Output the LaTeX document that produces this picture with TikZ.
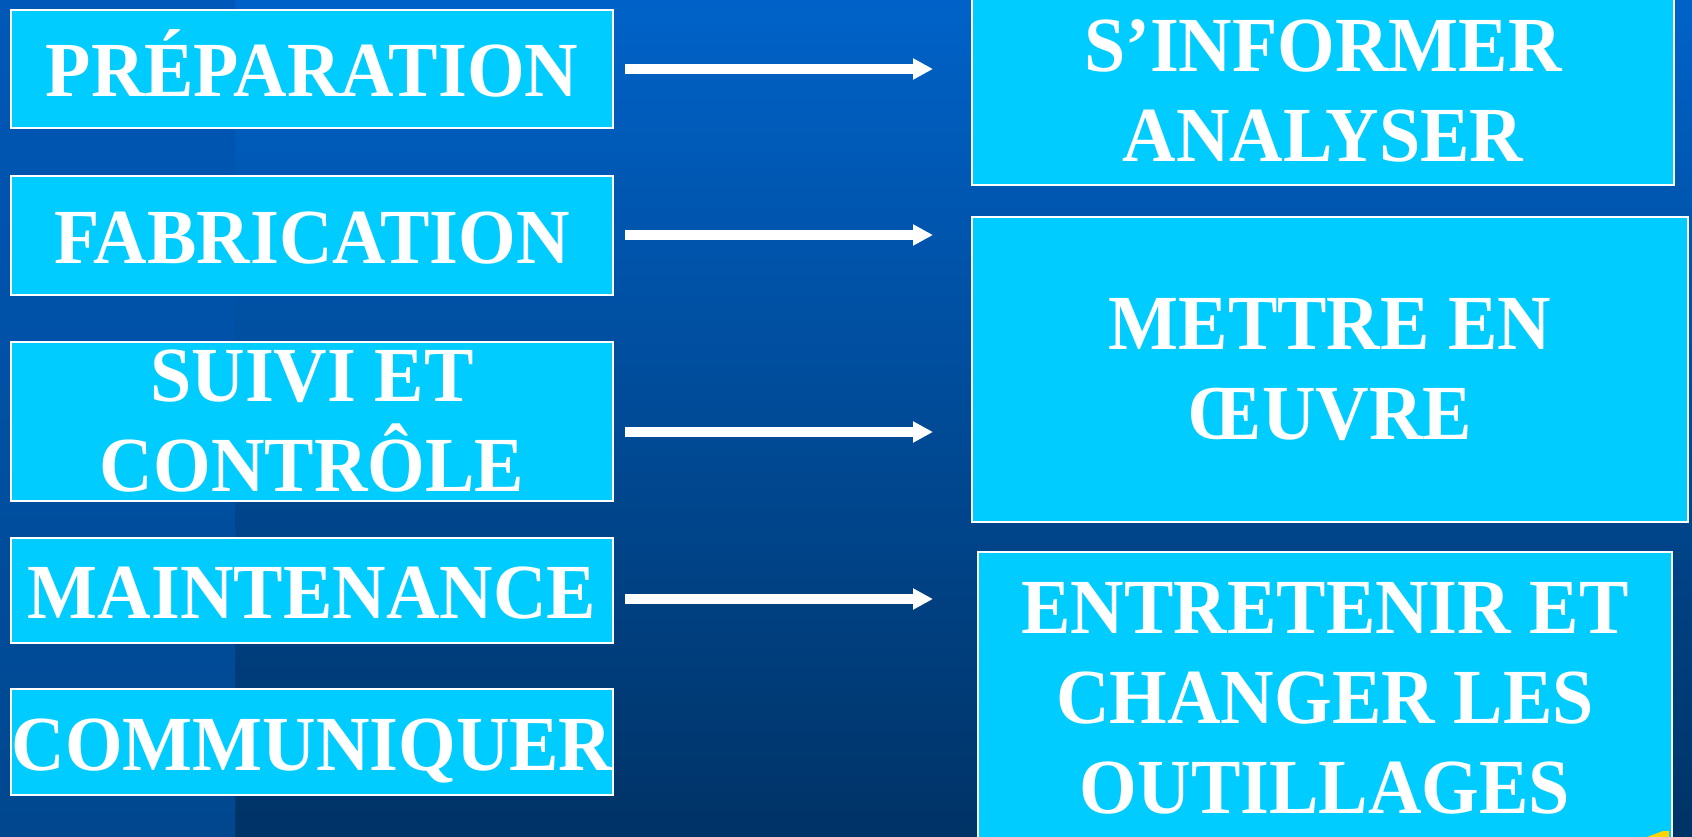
\documentclass[tikz,border=0pt]{standalone}
\usepackage{fontspec}
\newfontfamily\boxfont{Liberation Serif}[FakeStretch=0.95]
\usetikzlibrary{arrows.meta}
\definecolor{bgtop}{HTML}{0062C8}
\definecolor{bgbot}{HTML}{003366}
\definecolor{striptop}{HTML}{0058B8}
\definecolor{stripbot}{HTML}{00478E}
\definecolor{boxfill}{HTML}{00CCFF}
\definecolor{markyellow}{HTML}{FFD400}
\begin{document}
\begin{tikzpicture}[x=1pt,y=-1pt,
  box/.style={rectangle, fill=boxfill, draw=white, line width=2pt, inner sep=0pt,
    align=center, text=white, font=\boxfont\bfseries\fontsize{78pt}{90pt}\selectfont},
  oneline/.style={text height=56pt, text depth=0pt},
  arr/.style={draw=white, line width=10pt, -{Triangle[length=20pt,width=20pt]}, shorten <=11pt}]
\useasboundingbox (0,0) rectangle (1692,837);
% background
\shade[top color=bgtop, bottom color=bgbot] (0,0) rectangle (1692,837);
\shade[top color=striptop, bottom color=stripbot] (0,0) rectangle (235,837);

% left column
\node[box, oneline, minimum width=602pt, minimum height=118pt] (prep) at (312,69) {PRÉPARATION};
\node[box, oneline, minimum width=602pt, minimum height=119pt] (fab) at (312,235.5) {FABRICATION};
\node[box, minimum width=602pt, minimum height=159pt] (suivi) at (312,421.5) {SUIVI ET\\CONTRÔLE};
\node[box, oneline, minimum width=602pt, minimum height=105pt] (maint) at (312,590.5) {MAINTENANCE};
\node[box, oneline, minimum width=602pt, minimum height=106pt] (comm) at (312,742) {COMMUNIQUER};

% right column
\node[box, minimum width=702pt, minimum height=188pt] (info) at (1323,91) {S’INFORMER\\ANALYSER};
\node[box, minimum width=716pt, minimum height=305pt] (mettre) at (1330,369.5) {METTRE EN\\ŒUVRE};
\node[box, minimum width=694pt, minimum height=293pt] (entre) at (1325,698.5) {ENTRETENIR ET\\CHANGER LES\\OUTILLAGES};

% arrows
\coordinate (e1) at (933,69);
\coordinate (e2) at (933,235);
\coordinate (e3) at (933,432);
\coordinate (e4) at (933,599);
\draw[arr] (prep.east |- e1) -- (e1);
\draw[arr] (fab.east |- e2) -- (e2);
\draw[arr] (suivi.east |- e3) -- (e3);
\draw[arr] (maint.east |- e4) -- (e4);

% small yellow mark at bottom right
\fill[markyellow] (1647,837) -- (1663,831) -- (1669,831) -- (1669,837) -- cycle;
\end{tikzpicture}
\end{document}
